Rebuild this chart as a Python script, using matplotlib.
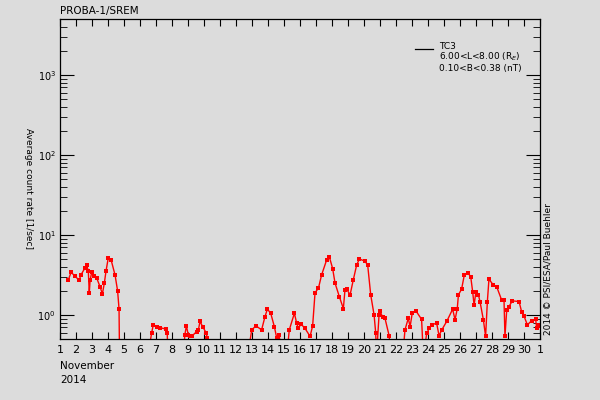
#!/usr/bin/python3

import numpy as np
import matplotlib.pyplot as plt
from matplotlib.ticker import LogLocator, FixedLocator

# day of November 2014 (fractional) and TC3 average count rate [1/sec]
# values below 0.5 sit under the plot floor
day = [1.52, 1.69, 1.94, 2.19, 2.31, 2.56, 2.67, 2.77, 2.83, 2.88, 2.98, 3.14,
       3.29, 3.5, 3.65, 3.77, 3.88, 4.02, 4.19, 4.44, 4.6, 4.69, 4.72,
       6.48, 6.73, 6.83, 7.04, 7.25, 7.6, 7.7, 7.75,
       8.71, 8.8, 8.9, 9.02, 9.13, 9.23, 9.54, 9.65, 9.75, 9.92, 10.13, 10.2, 10.25,
       12.73, 12.98, 13.25, 13.6, 13.81, 13.96, 14.17, 14.4, 14.54, 14.7, 14.86,
       15.17, 15.33, 15.65, 15.79, 15.9, 16.06, 16.31, 16.63, 16.79, 16.94,
       17.15, 17.35, 17.67, 17.83, 18.04, 18.19, 18.46, 18.71, 18.81, 18.92,
       19.13, 19.33, 19.54, 19.71, 20.06, 20.23, 20.42, 20.63, 20.73, 20.78,
       20.94, 21.0, 21.17, 21.31, 21.58, 21.65,
       22.42, 22.56, 22.77, 22.88, 23.02, 23.25, 23.6, 23.71, 23.92, 24.08,
       24.23, 24.54, 24.69, 24.86, 25.17, 25.54, 25.69, 25.83, 25.9, 26.1,
       26.27, 26.52, 26.67, 26.79, 26.88, 27.0, 27.15, 27.25, 27.46, 27.6,
       27.71, 27.81, 28.08, 28.29, 28.6, 28.75, 28.81, 28.92, 29.06, 29.27,
       29.69, 29.85, 30.0, 30.21, 30.48, 30.73, 30.79, 30.9, 31.0]
rate = [2.74, 3.4, 3.07, 2.7, 3.16, 3.87, 4.2, 3.5, 1.88, 2.7, 3.4, 3.07,
        2.9, 2.26, 1.83, 2.5, 3.57, 5.2, 4.9, 3.16, 2.0, 1.19, 0.3,
        0.3, 0.6, 0.75, 0.71, 0.69, 0.67, 0.6, 0.3,
        0.3, 0.56, 0.73, 0.56, 0.54, 0.54, 0.62, 0.65, 0.83, 0.71, 0.6, 0.52, 0.3,
        0.3, 0.65, 0.73, 0.65, 0.95, 1.18, 1.05, 0.71, 0.52, 0.56, 0.3,
        0.3, 0.65, 1.05, 0.79, 0.68, 0.77, 0.68, 0.54, 0.73, 1.9,
        2.15, 3.16, 4.9, 5.35, 3.8, 2.5, 1.69, 1.2, 2.05, 2.1,
        1.78, 2.74, 4.2, 5.0, 4.7, 4.2, 1.78, 1.0, 0.6, 0.3,
        1.0, 1.12, 0.93, 0.91, 0.54, 0.3,
        0.3, 0.65, 0.91, 0.71, 1.07, 1.12, 0.88, 0.3, 0.59, 0.68,
        0.75, 0.79, 0.55, 0.65, 0.83, 1.18, 0.87, 1.2, 1.78, 2.1,
        3.16, 3.3, 3.0, 1.96, 1.33, 1.96, 1.78, 1.47, 0.87, 0.54,
        1.47, 2.8, 2.37, 2.26, 1.54, 1.54, 0.54, 1.15, 1.27, 1.5,
        1.47, 1.1, 0.97, 0.75, 0.85, 0.88, 0.68, 0.75, 0.72]

day_ticks = list(range(1, 32))
day_labels = [str(d) for d in range(1, 31)] + ["1"]

bg = "#dcdcdc"


def main():
    plt.rcParams['font.family'] = 'DejaVu Sans'
    fig = plt.figure(figsize=(6, 4), dpi=100, facecolor=bg)
    ax = fig.add_axes([0.1, 0.1525, 0.8, 0.8], facecolor=bg)

    ax.plot(day, rate, color="red", lw=1.0, marker="s", ms=2.2, mew=0,
            label="TC3")

    ax.set_yscale("log")
    ax.set_xlim(1, 31)
    ax.set_ylim(0.5, 5000)

    ax.xaxis.set_major_locator(FixedLocator(day_ticks))
    ax.set_xticklabels(day_labels)
    ax.yaxis.set_major_locator(LogLocator(base=10, numticks=10))
    ax.yaxis.set_minor_locator(LogLocator(base=10, subs=np.arange(2, 10), numticks=10))
    ax.yaxis.set_minor_formatter(plt.NullFormatter())

    ax.tick_params(which="both", direction="in", top=True, right=True,
                   labelsize=8, color="black", pad=4)
    ax.tick_params(axis="y", which="major", labelsize=7, pad=3)
    ax.tick_params(axis="x", which="major", length=5)
    ax.tick_params(axis="y", which="major", length=10)
    ax.tick_params(axis="y", which="minor", length=5)
    for s in ax.spines.values():
        s.set_linewidth(0.9)

    ax.set_ylabel("Average count rate [1/sec]", rotation=270, fontsize=6.5,
                  va="center")
    ax.yaxis.set_label_coords(-0.066, 0.47)

    fig.text(0.1, 0.985, "PROBA-1/SREM", fontsize=7.5, ha="left", va="top")
    fig.text(0.1, 0.085, "November", fontsize=7.5, ha="left", va="center")
    fig.text(0.1, 0.05, "2014", fontsize=7.5, ha="left", va="center")
    fig.text(0.913, 0.1625, "2014 \u00a9 PSI/ESA/Paul Buehler", fontsize=6.5,
             rotation=90, ha="center", va="bottom")

    # legend drawn by hand
    ax.plot([0.74, 0.777], [0.905, 0.905], color="black", lw=0.9,
            transform=ax.transAxes)
    ax.text(0.79, 0.914, "TC3", fontsize=6.5, transform=ax.transAxes, va="center")
    ax.text(0.79, 0.881, "6.00<L<8.00 (R$_E$)", fontsize=6.5,
            transform=ax.transAxes, va="center")
    ax.text(0.79, 0.845, "0.10<B<0.38 (nT)", fontsize=6.5,
            transform=ax.transAxes, va="center")

    plt.savefig("out.png", facecolor=bg)


if __name__ == '__main__':
    main()
